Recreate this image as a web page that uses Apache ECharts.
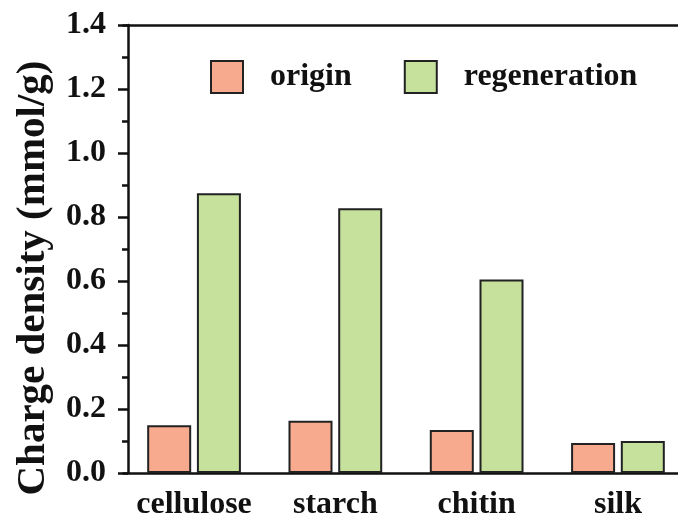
<!DOCTYPE html>
<html>
<head>
<meta charset="utf-8">
<script src="https://cdn.jsdelivr.net/npm/echarts@6/dist/echarts.min.js"></script>
<style>
  html, body { margin: 0; padding: 0; background: #fff; overflow: hidden; }
  #chart { width: 700px; height: 522px; }
</style>
</head>
<body>
<div id="chart"></div>
<script>
// Charge density of each biopolymer, before and after regeneration (mmol/g)
const categories = ['cellulose', 'starch', 'chitin', 'silk'];
const originValues = [0.149, 0.163, 0.134, 0.094];
const regenerationValues = [0.874, 0.827, 0.605, 0.100];
const yTicks = ['0.0', '0.2', '0.4', '0.6', '0.8', '1.0', '1.2', '1.4'];
const seriesNames = ['origin', 'regeneration'];
const yTitle = 'Charge density (mmol/g)';

const FONT = '"Liberation Serif", "Times New Roman", serif';
const INK = '#111';
const AXIS_W = 2.5;

// the plot frame runs past the right edge of the visible page
const chart = echarts.init(document.getElementById('chart'));

chart.setOption({
  animation: false,
  backgroundColor: '#fff',
  grid: { left: 123.4, top: 25, width: 565.2, height: 448 },
  legend: {
    left: 210,
    top: 60,
    padding: 0,
    itemWidth: 32,
    itemHeight: 32,
    itemGap: 52,
    icon: 'rect',
    selectedMode: false,
    data: seriesNames,
    textStyle: {
      fontFamily: FONT, fontWeight: 'bold', fontSize: 32, color: INK,
      padding: [0, 0, 0, 22]
    }
  },
  xAxis: [
    {
      type: 'category',
      data: categories,
      axisLine: { lineStyle: { color: INK, width: AXIS_W } },
      axisTick: { show: false },
      axisLabel: {
        interval: 0,
        margin: 16,
        fontFamily: FONT, fontWeight: 'bold', fontSize: 32, color: INK
      }
    },
    {
      type: 'category',
      position: 'top',
      data: categories,
      axisLine: { lineStyle: { color: INK, width: AXIS_W } },
      axisTick: { show: false },
      axisLabel: { show: false }
    }
  ],
  yAxis: {
    type: 'value',
    min: 0,
    max: 1.4,
    interval: 0.2,
    offset: -4.6,
    axisLine: { show: true, lineStyle: { color: INK, width: AXIS_W } },
    axisTick: { show: true, inside: false, length: 10, lineStyle: { color: INK, width: AXIS_W } },
    minorTick: { show: true, splitNumber: 2, length: 6, lineStyle: { color: INK, width: AXIS_W } },
    splitLine: { show: false },
    axisLabel: {
      margin: 22,
      fontFamily: FONT, fontWeight: 'bold', fontSize: 32, color: INK,
      formatter: (v) => yTicks[Math.round(v / 0.2)]
    }
  },
  series: [
    {
      name: seriesNames[0],
      type: 'bar',
      data: originValues,
      barWidth: 44,
      barGap: '13%',
      itemStyle: { color: '#F8AA8F', borderColor: '#222', borderWidth: 2 }
    },
    {
      name: seriesNames[1],
      type: 'bar',
      data: regenerationValues,
      barWidth: 44,
      barGap: '13%',
      itemStyle: { color: '#C5E19C', borderColor: '#222', borderWidth: 2 }
    }
  ],
  graphic: [
    {
      type: 'text',
      x: 33,
      y: 278,
      rotation: Math.PI / 2,
      style: {
        text: yTitle,
        fontFamily: FONT, fontWeight: 'bold', fontSize: 41, fill: INK,
        textAlign: 'center', textVerticalAlign: 'middle'
      }
    }
  ]
});
</script>
</body>
</html>
